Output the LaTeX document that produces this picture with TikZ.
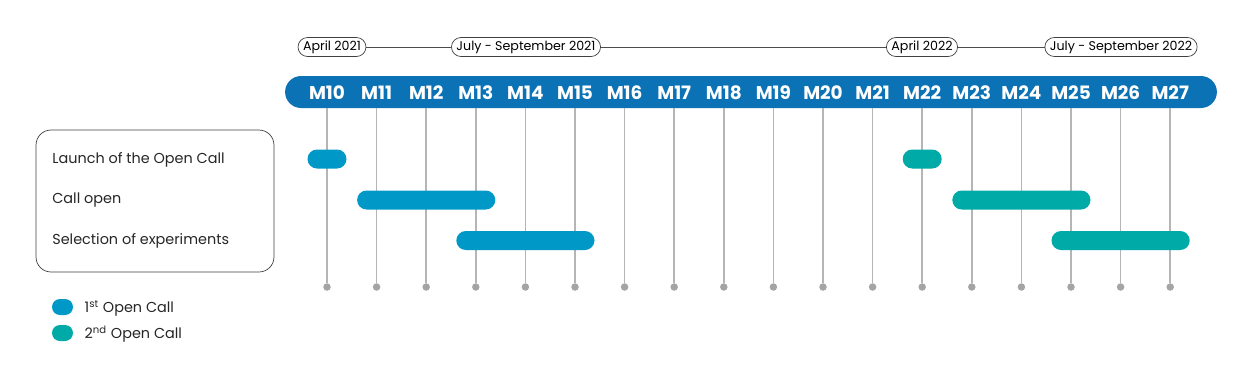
\documentclass[tikz,border=0pt]{standalone}
\usepackage{fontspec}
\setmainfont{Poppins}
\usepackage{tikz}
\usetikzlibrary{positioning, calc}
\definecolor{barblue}{HTML}{0B72B5}
\definecolor{callone}{HTML}{0099C7}
\definecolor{calltwo}{HTML}{00AAA6}
\definecolor{tickgray}{HTML}{B5B5B5}
\definecolor{dotgray}{HTML}{A4A4A4}

% x position of month k (pixel units)
\newcommand{\mx}[1]{327+(#1-10)*49.6}
% gantt bar: colour, first month, last month, row y
\newcommand{\ganttbar}[4]{%
    \fill[#1, rounded corners=0.19cm] ({\mx{#2}-19.5},{#4-9.5}) rectangle ({\mx{#3}+19.5},{#4+9.5});}

\begin{document}
\begin{tikzpicture}[
    x=0.02cm, y=-0.02cm,
    month/.style={font=\bfseries\fontsize{10.5}{12}\selectfont, text=white, inner sep=0pt},
    period/.style={draw=black!75, thin, fill=white, rounded corners=0.19cm, minimum height=0.38cm,
        inner xsep=0.1cm, inner ysep=0pt, font=\fontsize{7.2}{9}\selectfont},
    timeline/.style={draw=black!70, thin},
    tick/.style={draw=tickgray, line width=0.9pt},
    dot/.style={circle, fill=dotgray, inner sep=0pt, minimum size=0.15cm},
    row/.style={anchor=west, inner sep=0pt, font=\fontsize{8.2}{10}\selectfont, text=black!85},
    key/.style={rounded corners=0.16cm, minimum width=0.42cm, minimum height=0.32cm, inner sep=0pt}
]
    \useasboundingbox (0,0) rectangle (1258,380);

    % --- Periods above the bar ---
    \node[period] (apr21) at (332,47) {April 2021};
    \node[period] (jul21) at (526,47) {July - September 2021};
    \node[period] (apr22) at (922,47) {April 2022};
    \node[period] (jul22) at (1121,47) {July - September 2022};
    \draw[timeline] (apr21) -- (jul21) -- (apr22) -- (jul22);

    % --- Month bar ---
    \node[fill=barblue, rounded corners=0.32cm, minimum width=18.64cm, minimum height=0.64cm, inner sep=0pt]
        (timebar) at (751,92) {};
    \foreach \k in {10,...,27}
        \node[month] (m\k) at ({\mx{\k}},92.5) {M\k};

    % --- Ticks and dots ---
    \foreach \k in {10,...,27} {
        \node[dot] (d\k) at ({\mx{\k}},287) {};
        \draw[tick] (m\k |- timebar.south) -- (d\k);
    }

    % --- Row labels ---
    \node[draw=black!75, thin, rounded corners=0.3cm, minimum width=4.76cm, minimum height=2.84cm]
        (rows) at (155,201) {};
    \node[row] (launch) at (52,160) {Launch of the Open Call};
    \node[row] (open) at (52,200) {Call open};
    \node[row] (select) at (52,241) {Selection of experiments};

    % --- 1st Open Call ---
    \ganttbar{callone}{10}{10}{159}
    \ganttbar{callone}{11}{13}{200}
    \ganttbar{callone}{13}{15}{240.5}

    % --- 2nd Open Call ---
    \ganttbar{calltwo}{22}{22}{159}
    \ganttbar{calltwo}{23}{25}{200}
    \ganttbar{calltwo}{25}{27}{240.5}

    % --- Key ---
    \node[key, fill=callone] (k1) at (62.5,307) {};
    \node[key, fill=calltwo] (k2) at (62.5,333) {};
    \node[row, right=0.22cm of k1, yshift=-0.02cm] (k1text) {1\textsuperscript{st} Open Call};
    \node[row, right=0.22cm of k2, yshift=-0.02cm] (k2text) {2\textsuperscript{nd} Open Call};

\end{tikzpicture}
\end{document}
